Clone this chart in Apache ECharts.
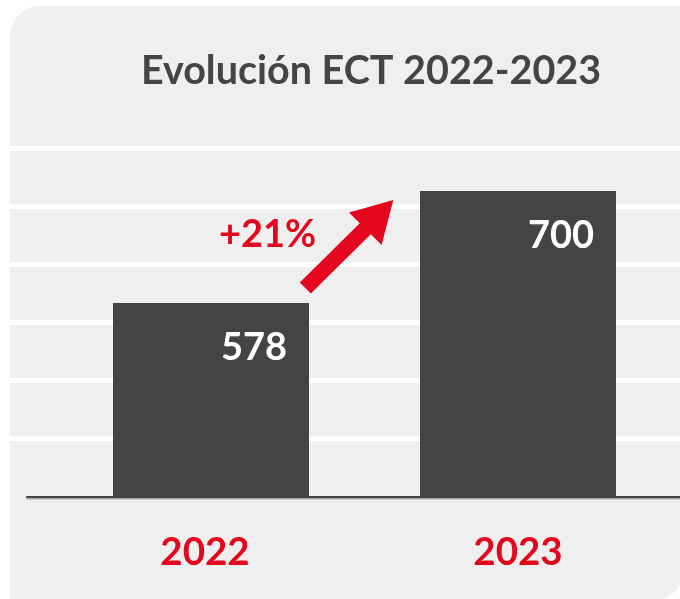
<!DOCTYPE html>
<html>
<head>
<meta charset="utf-8">
<script src="https://cdn.jsdelivr.net/npm/echarts@6/dist/echarts.min.js"></script>
<style>
html,body{margin:0;padding:0;background:#ffffff;}
#chart{width:680px;height:599px;}
</style>
</head>
<body>
<div id="chart"></div>
<script>
var titleText = 'Evolución ECT 2022-2023';
var categories = ['2022', '2023'];
var values = [578, 700];
var changeLabel = '+21%';

var RED = '#e3061d';
var DARK = '#444444';
var FONT = 'Lato';

var chart = echarts.init(document.getElementById('chart'), null, {renderer: 'canvas'});

var option = {
  backgroundColor: '#ffffff',
  animation: false,
  title: {
    text: titleText,
    left: 366,
    top: 46,
    textAlign: 'center',
    textStyle: {color: '#444444', fontFamily: FONT, fontWeight: 'bold', fontSize: 39.5}
  },
  graphic: [
    {
      type: 'rect', z: -10, silent: true,
      shape: {x: 10, y: 6, width: 674, height: 595, r: [30, 0, 32, 0]},
      style: {fill: '#efefef'}
    },
    {
      type: 'polygon', z: 100, silent: true,
      shape: {points: [[299.8,282.5],[359.8,223.2],[349,212.4],[393.3,200],[381.6,245],[370.8,234.2],[310.8,293.5]]},
      style: {fill: RED}
    },
    {
      type: 'text', z: 100, silent: true,
      left: 219, top: 216,
      style: {text: changeLabel, fill: RED, font: 'bold 38px Lato'}
    }
  ],
  grid: [
    {left: 10, right: 0, top: 148.5, bottom: 160.5},
    {left: 27, right: 0, top: 148.5, bottom: 102},
    {left: 57.5, right: 8.5, top: 148.5, bottom: 102}
  ],
  xAxis: [
    {gridIndex: 0, type: 'category', data: [''], show: false},
    {gridIndex: 1, type: 'category', data: categories,
      axisLine: {show: true, lineStyle: {color: DARK, width: 2, shadowColor: '#a8a8a8', shadowOffsetY: 1.5, shadowBlur: 0}},
      axisTick: {show: false}, axisLabel: {show: false}, splitLine: {show: false}},
    {gridIndex: 2, type: 'category',
      data: categories.map(function (c, i) {
        return i === 0 ? {value: c, textStyle: {padding: [0, 12, 0, 0]}} : c;
      }),
      axisLine: {show: false}, axisTick: {show: false}, splitLine: {show: false},
      axisLabel: {color: RED, fontFamily: FONT, fontWeight: 'bold', fontSize: 38.5, margin: 36}}
  ],
  yAxis: [
    {gridIndex: 0, type: 'value', min: 1, max: 6, interval: 1,
      axisLine: {show: false}, axisTick: {show: false}, axisLabel: {show: false},
      splitLine: {show: true, lineStyle: {color: '#ffffff', width: 5}}},
    {gridIndex: 1, type: 'value', min: 0, max: 1, show: false, splitLine: {show: false}},
    {gridIndex: 2, type: 'value', min: 366.7, max: 746.3, show: false, splitLine: {show: false}}
  ],
  series: [
    {
      type: 'bar', xAxisIndex: 2, yAxisIndex: 2,
      data: values, barWidth: 196,
      itemStyle: {color: DARK},
      label: {
        show: true, position: 'insideTopRight', distance: 22, offset: [0, 4],
        color: '#ffffff', fontFamily: FONT, fontWeight: 'bold', fontSize: 38
      },
      z: 5
    }
  ]
};
chart.setOption(option);
</script>
</body>
</html>
